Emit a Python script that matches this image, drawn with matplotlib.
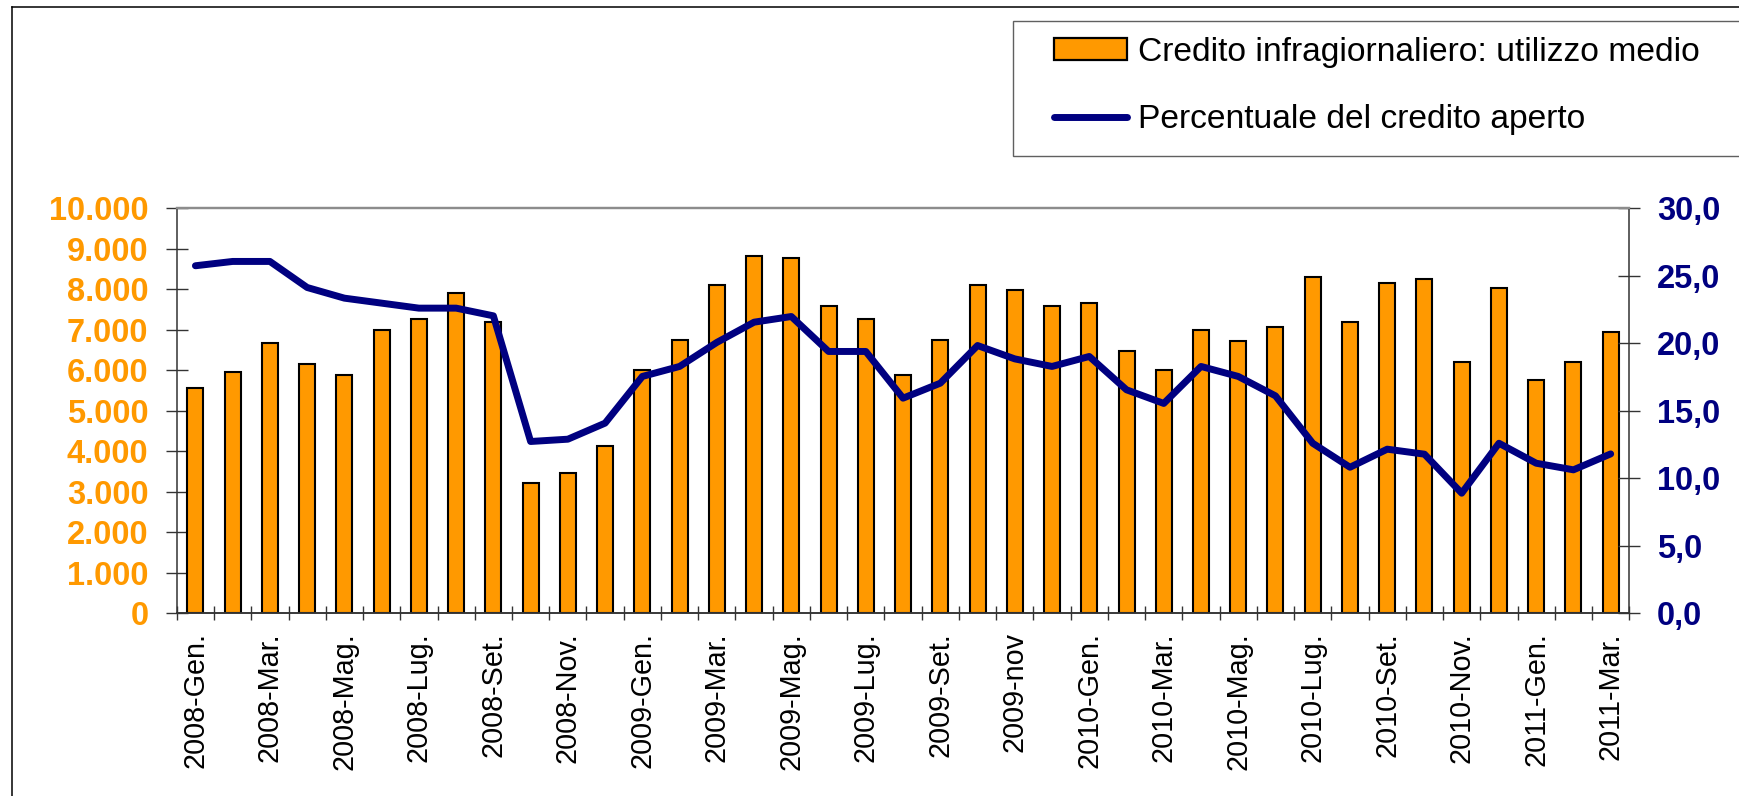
import matplotlib
matplotlib.use('Agg')
import matplotlib.pyplot as plt
from matplotlib.patches import Patch, Rectangle
from matplotlib.lines import Line2D
import numpy as np

# ---------------- data ----------------
mesi = ['2008-Gen.', '2008-Feb.', '2008-Mar.', '2008-Apr.', '2008-Mag.', '2008-Giu.',
        '2008-Lug.', '2008-Ago.', '2008-Set.', '2008-Ott.', '2008-Nov.', '2008-Dic.',
        '2009-Gen.', '2009-Feb.', '2009-Mar.', '2009-Apr.', '2009-Mag.', '2009-Giu.',
        '2009-Lug.', '2009-Ago.', '2009-Set.', '2009-Ott.', '2009-nov', '2009-Dic.',
        '2010-Gen.', '2010-Feb.', '2010-Mar.', '2010-Apr.', '2010-Mag.', '2010-Giu.',
        '2010-Lug.', '2010-Ago.', '2010-Set.', '2010-Ott.', '2010-Nov.', '2010-Dic.',
        '2011-Gen.', '2011-Feb.', '2011-Mar.']
mostra_etichetta = [i % 2 == 0 for i in range(len(mesi))]

credito = [5560, 5956, 6672, 6161, 5890, 6993, 7265, 7908, 7191, 3213, 3468, 4135,
           6013, 6738, 8114, 8830, 8773, 7595, 7274, 5890, 6738, 8114, 7990, 7595,
           7661, 6483, 6013, 6993, 6730, 7076, 8303, 7191, 8163, 8245, 6211, 8040,
           5758, 6211, 6936]

percentuale = [25.75, 26.07, 26.07, 24.14, 23.35, 22.98, 22.61, 22.61, 22.04, 12.73, 12.90, 14.09,
               17.55, 18.29, 20.07, 21.57, 21.99, 19.40, 19.40, 15.94, 17.05, 19.84, 18.85, 18.29,
               19.03, 16.56, 15.55, 18.29, 17.55, 16.11, 12.60, 10.82, 12.16, 11.79, 8.90, 12.60,
               11.12, 10.63, 11.81]

tick_sx = [0, 1000, 2000, 3000, 4000, 5000, 6000, 7000, 8000, 9000, 10000]
etichette_sx = ['0', '1.000', '2.000', '3.000', '4.000', '5.000', '6.000', '7.000',
                '8.000', '9.000', '10.000']
tick_dx = [0, 5, 10, 15, 20, 25, 30]
etichette_dx = ['0,0', '5,0', '10,0', '15,0', '20,0', '25,0', '30,0']

nome_barre = 'Credito infragiornaliero: utilizzo medio'
nome_linea = 'Percentuale del credito aperto'

ARANCIO = '#FF9900'
BLU = '#000080'

# ---------------- figure ----------------
plt.rcParams['font.family'] = ['Liberation Sans', 'DejaVu Sans']
W, H = 1740, 796
fig = plt.figure(figsize=(W / 100, H / 100), dpi=100)

x0, x1, ytop, ybot = 176.8, 1629.3, 208.4, 613.3
ax = fig.add_axes([x0 / W, 1 - ybot / H, (x1 - x0) / W, (ybot - ytop) / H])

x = np.arange(len(credito))
ax.bar(x, credito, width=0.43, color=ARANCIO, edgecolor='black', linewidth=1.5, zorder=2)
ax.set_xlim(-0.5, len(credito) - 0.5)
ax.set_ylim(tick_sx[0], tick_sx[-1])

ax2 = ax.twinx()
ax2.plot(x, percentuale, color=BLU, lw=5.0, solid_capstyle='round',
         solid_joinstyle='round', zorder=3)
ax2.set_ylim(tick_dx[0], tick_dx[-1])

# spines
for a in (ax, ax2):
    a.spines['top'].set_color('#8c8c8c')
    a.spines['top'].set_linewidth(1.6)
    a.spines['bottom'].set_color('#333333')
    a.spines['bottom'].set_linewidth(1.1)
ax.spines['right'].set_visible(False)
ax.spines['left'].set_color('#333333')
ax.spines['left'].set_linewidth(1.1)
ax2.spines['left'].set_visible(False)
ax2.spines['right'].set_color('#333333')
ax2.spines['right'].set_linewidth(1.1)

# x ticks: boundary marks (major) and month labels (minor)
ax.set_xticks(np.arange(-0.5, len(credito), 1.0))
ax.set_xticklabels([])
ax.tick_params(axis='x', which='major', direction='inout', length=10, width=1, color='#333333')
pos_lab = [i for i in x if mostra_etichetta[i]]
ax.set_xticks(pos_lab, minor=True)
ax.set_xticklabels([mesi[i] for i in pos_lab], minor=True, rotation=90,
                   fontsize=20.7, va='top', ha='center')
ax.tick_params(axis='x', which='minor', length=0, pad=13.5)

# y ticks
ax.set_yticks(tick_sx)
ax.set_yticklabels(etichette_sx, fontweight='bold', fontsize=23.5, color=ARANCIO)
ax.tick_params(axis='y', direction='inout', length=15.5, width=1, color='#333333', pad=12.7)
ax2.set_yticks(tick_dx)
ax2.set_yticklabels(etichette_dx, fontweight='bold', fontsize=23.5, color=BLU)
ax2.tick_params(axis='y', direction='inout', length=15.5, width=1, color='#333333', pad=12.0)

# outer chart border (left + top)
fig.add_artist(Line2D([12.3 / W, 12.3 / W], [0, 1 - 7.3 / H], transform=fig.transFigure,
                      color='black', lw=1.1))
fig.add_artist(Line2D([12.3 / W, 1.0], [1 - 7.3 / H, 1 - 7.3 / H], transform=fig.transFigure,
                      color='black', lw=1.1))

# legend frame
fig.add_artist(Rectangle((1012.7 / W, 1 - 155.7 / H), (W + 10 - 1012.7) / W, (155.7 - 20.7) / H,
                         transform=fig.transFigure, facecolor='white', edgecolor='#606060',
                         lw=1.0))

handles = [Patch(facecolor=ARANCIO, edgecolor='black', linewidth=1.6),
           Line2D([0], [0], color=BLU, lw=5, solid_capstyle='round')]
fig.legend(handles=handles, labels=[nome_barre, nome_linea], loc='upper left',
           bbox_to_anchor=(1054.3 / W, 1 - 37 / H), frameon=False, borderpad=0,
           borderaxespad=0, handlelength=2.17, handleheight=0.6, handletextpad=0.31,
           labelspacing=1.08, fontsize=24.2)

fig.savefig('out.png', dpi=100)
